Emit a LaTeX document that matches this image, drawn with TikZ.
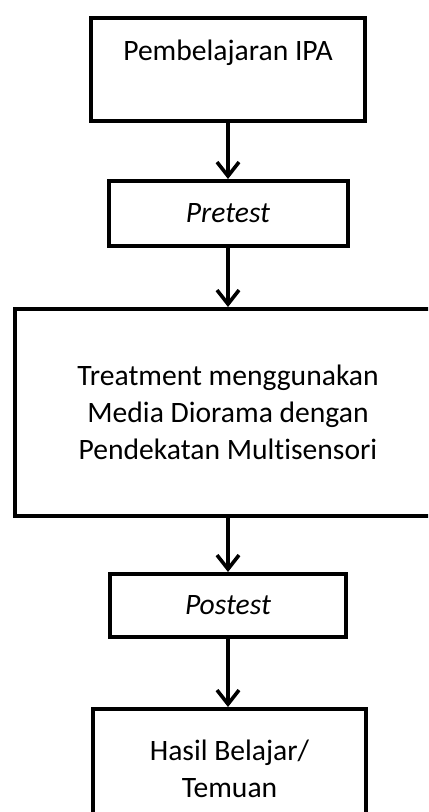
\documentclass[tikz,border=0pt]{standalone}
\usepackage{fontspec}
\setmainfont{Carlito}[Ligatures=NoCommon]
\usetikzlibrary{arrows.meta}
\begin{document}
\begin{tikzpicture}[x=0.5pt,y=-0.5pt,
  every node/.style={font=\fontsize{14.8pt}{18.5pt}\selectfont},
  box/.style={draw,line width=2pt,align=center,inner sep=0pt},
  arr/.style={-{Straight Barb[length=7pt,width=11pt,line width=1.8pt]},line width=1.8pt}]
% Alur penelitian: pretest, treatment, postest
\useasboundingbox (0,0) rectangle (428,812);
\clip (0,0) rectangle (428,812);
\node[box,anchor=north,minimum width=137pt,text height=21.5pt,text depth=30pt] (ipa) at (228,16) {Pembelajaran IPA};
\node[box,minimum width=119.5pt,minimum height=32.5pt] (pre) at (228,213.5) {\textit{Pretest}};
\node[box,minimum width=213pt,minimum height=103.5pt] (treat) at (228,412.5) {Treatment menggunakan\\Media Diorama dengan\\Pendekatan Multisensori};
\node[box,minimum width=118pt,minimum height=31.5pt] (post) at (228,605.5) {\textit{Postest}};
\node[box,minimum width=136.5pt,minimum height=60pt] (hasil) at (229.5,769) {Hasil Belajar/\\Temuan};
\draw[arr] (ipa) -- (pre);
\draw[arr] (pre) -- (treat);
\draw[arr] (treat) -- (post);
\draw[arr] (post) -- (hasil.north -| post.south);
\end{tikzpicture}
\end{document}
